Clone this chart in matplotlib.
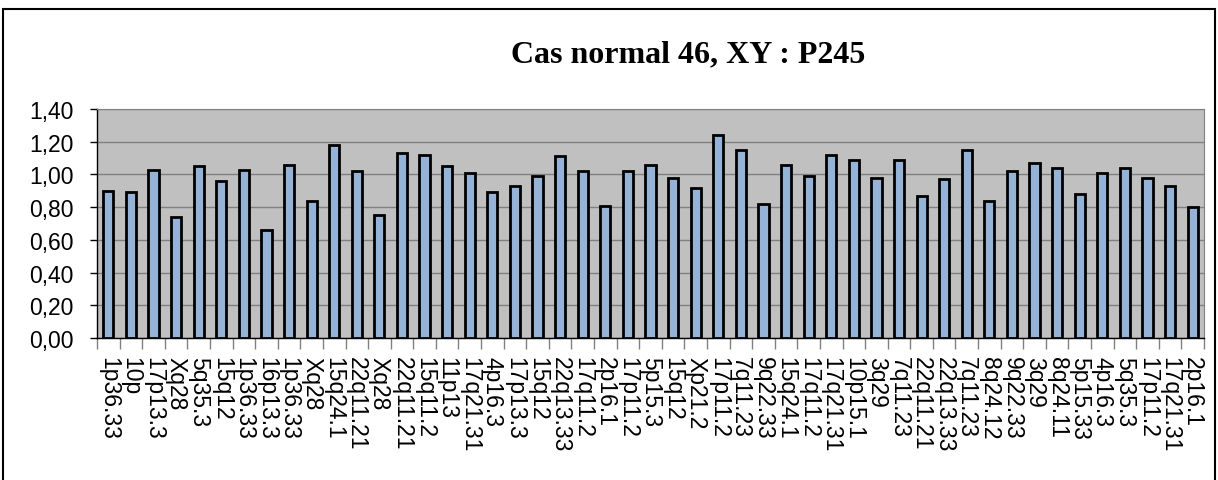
import matplotlib.pyplot as plt
import numpy as np
from matplotlib.patches import Rectangle
from matplotlib.ticker import FuncFormatter

regions = [
    "1p36.33", "10p", "17p13.3", "Xq28", "5q35.3", "15q12", "1p36.33", "16p13.3",
    "1p36.33", "Xq28", "15q24.1", "22q11.21", "Xq28", "22q11.21", "15q11.2", "11p13",
    "17q21.31", "4p16.3", "17p13.3", "15q12", "22q13.33", "17q11.2", "2p16.1", "17p11.2",
    "5p15.3", "15q12", "Xp21.2", "17p11.2", "7q11.23", "9q22.33", "15q24.1", "17q11.2",
    "17q21.31", "10p15.1", "3q29", "7q11.23", "22q11.21", "22q13.33", "7q11.23", "8q24.12",
    "9q22.33", "3q29", "8q24.11", "5p15.33", "4p16.3", "5q35.3", "17p11.2", "17q21.31",
    "2p16.1",
]
ratios = [
    0.90, 0.89, 1.03, 0.74, 1.05, 0.96, 1.03, 0.66, 1.06, 0.84, 1.18, 1.02, 0.75,
    1.13, 1.12, 1.05, 1.01, 0.89, 0.93, 0.99, 1.11, 1.02, 0.81, 1.02, 1.06, 0.98,
    0.92, 1.24, 1.15, 0.82, 1.06, 0.99, 1.12, 1.09, 0.98, 1.09, 0.87, 0.97, 1.15,
    0.84, 1.02, 1.07, 1.04, 0.88, 1.01, 1.04, 0.98, 0.93, 0.80,
]
title = "Cas normal 46, XY : P245"

fig = plt.figure(figsize=(12.18, 4.81), dpi=100)
ax = fig.add_axes([97 / 1218, 1 - 339 / 481, (1204 - 97) / 1218, (339 - 110) / 481])
ax.set_facecolor("#C0C0C0")

x = np.arange(len(ratios))
ax.bar(x, ratios, width=0.45, color="#95B3D7", edgecolor="black", linewidth=2, zorder=3)

ax.set_xlim(-0.5, len(ratios) - 0.5)
ax.set_ylim(0, 1.4)
ax.set_yticks(np.arange(0, 1.41, 0.2))
ax.yaxis.set_major_formatter(FuncFormatter(lambda v, p: f"{v:.2f}".replace(".", ",")))
ax.grid(axis="y", color="#808080", linewidth=1, zorder=1)

ax.set_xticks(x)
ax.set_xticklabels(regions, rotation=270, fontsize=16.5, family="Liberation Sans", va="top")
ax.set_xticks(np.arange(-0.5, len(ratios), 1), minor=True)
ax.tick_params(axis="x", which="major", length=0, pad=13)
ax.tick_params(axis="x", which="minor", length=8, width=1, color="#808080", direction="out")
ax.tick_params(axis="y", length=5, width=1, labelsize=16.5, pad=12)
for lab in ax.get_yticklabels():
    lab.set_family("Liberation Sans")

ax.spines["left"].set_color("black")
ax.spines["bottom"].set_color("black")
ax.spines["left"].set_linewidth(1)
ax.spines["bottom"].set_linewidth(1)
ax.spines["top"].set_color("#808080")
ax.spines["right"].set_color("#808080")

fig.text(688 / 1218, 1 - 55 / 481, title, ha="center", va="center",
         fontsize=23, fontweight="bold", family="Liberation Serif")

fig.patches.append(Rectangle((3 / 1218, -0.1), 1212 / 1218, 1.1 - 10 / 481,
                             transform=fig.transFigure, fill=False,
                             edgecolor="black", linewidth=1.5))

fig.savefig("out.png", dpi=100)
